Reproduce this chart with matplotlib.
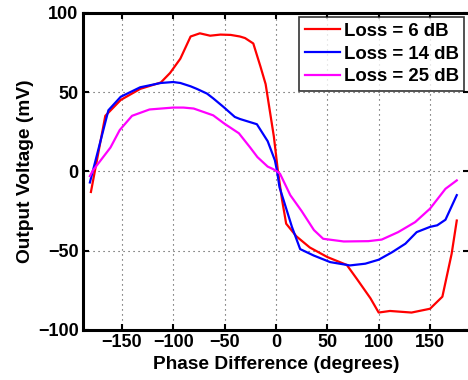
import matplotlib
matplotlib.use("Agg")
import matplotlib.pyplot as plt

# Loss = 6 dB
x_6db = [-180, -166, -151, -132, -112, -103, -93, -83, -74, -64, -54, -44, -35, -30, -22, -15, -10, -2, 2, 6, 10, 20, 33, 50, 69, 79, 92, 100, 111, 132, 150, 162, 171, 176]
y_6db = [-13, 35, 45, 52, 56, 62, 71, 85, 87, 85.5, 86.2, 86, 85, 84, 80.6, 66, 55, 22, 0, -18, -33, -41, -48, -54, -59, -68, -80, -89, -88, -89, -86.6, -79, -52, -31]

# Loss = 14 dB
x_14db = [-181, -163, -151, -132, -112, -100, -93, -83, -77, -67, -61, -51, -40, -35, -18.5, -8, -1, 1, 3.5, 7.4, 15.6, 23.6, 36.6, 52.8, 72, 87, 100, 113, 126, 137, 150, 157, 165, 176]
y_14db = [-7, 38.5, 47, 53, 55.7, 56.3, 55.7, 53.6, 52, 49, 46, 40.6, 34.3, 33, 29.7, 19, 7, 0.6, -10, -18, -35, -49, -53, -57.2, -59.3, -58.2, -55.7, -51, -45.6, -38.3, -35, -34, -30.5, -15]

# Loss = 25 dB
x_25db = [-181, -178, -161, -152, -140, -123, -100, -90, -80, -61, -50, -36, -25, -18, -8, -3, 1, 4, 14, 25, 37, 46, 66, 90, 103, 119, 135.5, 150, 165, 176]
y_25db = [-3, 0.6, 15, 26, 35, 39, 40.2, 40.2, 39.6, 35.3, 30, 24, 15, 9, 3, 1.5, 0, -1.5, -15, -25, -37, -42.5, -44.2, -44, -43, -38.3, -32, -23.5, -11, -5.7]

labels = ["Loss = 6 dB", "Loss = 14 dB", "Loss = 25 dB"]
colors = ["#ff0000", "#0000ff", "#ff00ff"]
xticks = [-150, -100, -50, 0, 50, 100, 150]
yticks = [-100, -50, 0, 50, 100]

plt.rcParams['font.family'] = ['Liberation Sans', 'DejaVu Sans']
plt.rcParams['font.weight'] = 'bold'

fig = plt.figure(figsize=(4.68, 3.8), dpi=100)
W, H = 468, 380
l, r, b, t = 82.7, 469.1, 330, 12.7
ax = fig.add_axes([l / W, (H - b) / H, (r - l) / W, (b - t) / H])

for xs, ys, lab, c in zip([x_6db, x_14db, x_25db], [y_6db, y_14db, y_25db], labels, colors):
    ax.plot(xs, ys, color=c, lw=1.6, label=lab)

ax.set_xlim(-188, 188)
ax.set_ylim(-100, 100)
ax.set_xticks(xticks)
ax.set_yticks(yticks)
ax.set_xticklabels([str(v).replace('-', '\u2212') for v in xticks])
ax.set_yticklabels([str(v).replace('-', '\u2212') for v in yticks])
ax.grid(True, linestyle=(0, (1, 3.5)), color='#444444', lw=0.8)
ax.tick_params(direction='in', length=4, width=1.5, labelsize=13, top=True, right=True, pad=3)
for lab in ax.get_xticklabels() + ax.get_yticklabels():
    lab.set_fontweight('bold')
for s in ax.spines.values():
    s.set_linewidth(2.2)

ax.set_xlabel("Phase Difference (degrees)", fontsize=13.8, fontweight='bold', labelpad=3.5)
ax.set_ylabel("Output Voltage (mV)", fontsize=13.8, fontweight='bold', labelpad=3)

leg = ax.legend(loc='upper right', fontsize=13.4, frameon=True, fancybox=False,
                edgecolor='black', borderpad=0.3, labelspacing=0.3, handlelength=1.9,
                handletextpad=0.2, borderaxespad=0.25)
leg.get_frame().set_linewidth(1.2)
for txt in leg.get_texts():
    txt.set_fontweight('bold')

fig.savefig("out.png", dpi=100)
